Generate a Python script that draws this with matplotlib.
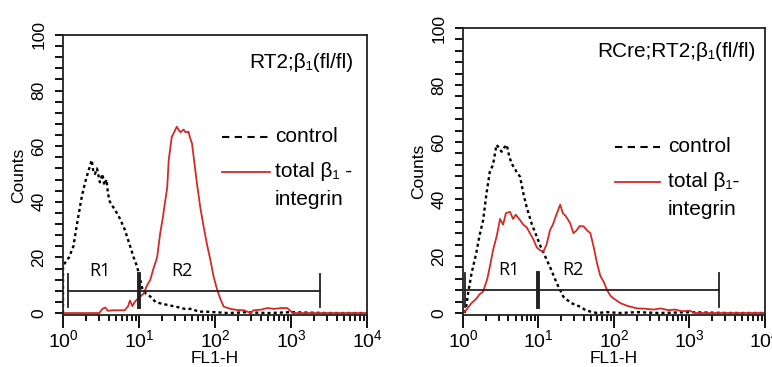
import numpy as np
import matplotlib
matplotlib.use('Agg')
from matplotlib import pyplot as plt
from matplotlib.ticker import MultipleLocator, LogLocator, FixedLocator, LogFormatterSciNotation

plt.rcParams['font.family'] = ['Liberation Sans', 'DejaVu Sans']
plt.rcParams['mathtext.default'] = 'regular'

''' Data read off the two FL1-H histograms '''
# RT2;b1(fl/fl)
left_ctrl_x = [1.0, 1.0, 1.06, 1.2, 1.37, 1.55, 1.77, 2.0, 2.27, 2.39, 2.5, 2.63, 2.8, 3.06, 3.3, 3.5,
               3.74, 3.9, 4.14, 4.6, 5.1, 5.6, 6.5, 7.65, 8.5, 9.35, 10.0, 11.0, 12.3, 14.0, 16.5, 19.0,
               23, 28, 34, 40, 50, 60, 75, 100, 150, 250, 500, 1000, 3000, 10000]
left_ctrl_y = [0, 17, 18, 20, 24, 33, 42, 48, 53, 55, 51, 50, 52, 47, 50, 46,
               48, 43, 40, 38, 36, 34, 30, 24, 20, 17, 14, 9, 7, 6, 4, 3.5,
               3, 2.5, 2, 1.5, 1.5, 0.5, 0.5, 0.3, 0, 0.3, 0, 0.3, 0, 0]
left_b1_x = [1.0, 3.0, 3.3, 3.6, 3.9, 4.5, 6.5, 7.2, 7.6, 8.2, 8.8, 9.5, 10.5, 11.5, 12.8, 14.1,
             15.5, 17.3, 19, 20.5, 22.2, 23.5, 24.6, 26, 27, 29, 31.4, 33, 35, 38.6, 41, 44.8,
             47, 49.8, 53, 57.9, 64, 71, 78, 87, 96, 107, 118, 130, 160, 195, 240, 295, 320,
             400, 490, 600, 750, 890, 1050, 10000]
left_b1_y = [0, 0, 1.5, 2, 0.8, 1, 1, 2.5, 4.5, 2.5, 4, 5, 6, 7, 10, 12,
             16, 20, 28.7, 34, 40.6, 45, 55, 60, 63.4, 65, 67, 66, 65, 66, 65, 65.2,
             63, 61, 55, 46.6, 38, 31, 25, 19, 13, 8.3, 5, 2.3, 1.5, 1.1, 1, 0, 1,
             1.2, 1.8, 1.5, 1.8, 1.8, 0, 0]
left_gate = [1.15, 10.0, 2400.0]

# RCre;RT2;b1(fl/fl)
right_ctrl_x = [1.05, 1.1, 1.17, 1.3, 1.5, 1.65, 1.85, 2.05, 2.27, 2.5, 2.78, 3.0, 3.24, 3.5, 3.8,
                4.1, 4.4, 5.0, 5.7, 6.3, 7.0, 8.2, 9.5, 10.8, 12.3, 14.3, 17.5, 21.4, 27, 35.8,
                42, 48.6, 60, 80, 120, 200, 400, 1000, 3000, 10000]
right_ctrl_y = [0, 2, 7, 14, 21, 27, 32.6, 42, 49.6, 52, 59, 58, 56.6, 58, 59,
                55, 52.5, 50, 47.8, 42, 37, 31, 26.8, 23, 19.8, 16, 10.4, 5.7, 3.5, 2.2,
                1, 0.5, 0, 0.3, 0, 0.3, 0, 0.3, 0, 0]
right_b1_x = [1.0, 1.1, 1.3, 1.5, 1.65, 1.85, 2.1, 2.3, 2.5, 2.8, 3.1, 3.4, 3.7, 4.2, 4.6, 5.0,
              5.7, 6.3, 7.0, 7.7, 8.5, 9.5, 10.5, 11.6, 12.8, 14.2, 15.5, 17, 19.4, 21, 23,
              26.3, 29, 32, 35, 39.6, 44, 48.7, 54, 59.7, 66, 73, 81, 90, 100, 123, 150, 204,
              260, 330, 420, 520, 650, 800, 1000, 1200, 10000]
right_b1_y = [0, 1, 3.5, 5, 6.5, 7.5, 12, 17, 22, 27, 33, 31, 35, 35.5, 33, 34.5,
              32.6, 31, 30, 28, 26, 23, 22, 21.5, 24, 29, 31, 34, 38, 35, 34,
              31.5, 28, 29, 30.5, 30.4, 29, 28, 23, 17.4, 13, 11, 8, 6, 5, 3.4, 2.5, 1.6,
              1.5, 1.2, 1.6, 1.0, 1.2, 0.6, 0.8, 0, 0]
right_gate = [1.05, 10.0, 2450.0]

decades = [1, 10, 100, 1000, 10000]

GATE_LEVEL = 8
GATE_TICK = [2, 14]
RED = '#d42a24'
DARK = '#222222'


def draw_panel(ax, ctrl_x, ctrl_y, b1_x, b1_y, gate, title, leg, r1_x, r2_x, b1_label):
    ax.plot(ctrl_x, ctrl_y, color='black', lw=1.7, ls=(0, (1.3, 1.3)))
    ax.plot(b1_x, b1_y, color=RED, lw=1.3)

    # gate bar with R1 / R2
    ax.plot([gate[0], gate[2]], [GATE_LEVEL, GATE_LEVEL], color=DARK, lw=1.3)
    for i, g in enumerate(gate):
        ax.plot([g, g], GATE_TICK, color=DARK, lw=2.8 if i == 1 else 1.3)
    ax.text(r1_x, 15, 'R1', fontsize=13, ha='center', va='center', family=['Open Sans'])
    ax.text(r2_x, 15, 'R2', fontsize=13, ha='center', va='center', family=['Open Sans'])

    ax.set_xscale('log')
    ax.set_xlim(1, 1e4)
    ax.set_ylim(-0.7, 100)
    ax.yaxis.set_major_locator(MultipleLocator(20))
    ax.yaxis.set_minor_locator(MultipleLocator(4))
    ax.xaxis.set_major_locator(FixedLocator(decades))
    ax.xaxis.set_minor_locator(LogLocator(base=10, subs=np.arange(2, 10), numticks=20))
    ax.xaxis.set_major_formatter(LogFormatterSciNotation())
    ax.tick_params(axis='y', which='major', length=6, width=1.3, pad=6, labelsize=12.5)
    ax.tick_params(axis='y', which='minor', length=6, width=1.3)
    ax.tick_params(axis='x', which='major', length=9, width=1.3, pad=1, labelsize=14)
    ax.tick_params(axis='x', which='minor', length=4, width=1.3)
    for lab in ax.get_yticklabels():
        lab.set_rotation(90)
        lab.set_va('center')
    for s in ax.spines.values():
        s.set_linewidth(1.3)
        s.set_color(DARK)
    ax.set_xlabel('FL1-H', fontsize=12.5, labelpad=0)
    ax.set_ylabel('Counts', fontsize=12.5, labelpad=4)

    # title and hand-made legend
    ax.text(leg['title'][0], leg['title'][1], title, transform=ax.transAxes,
            fontsize=15, ha='right', va='center')
    x0, x1, xt = leg['x']
    yc, yr, yi = leg['y']
    ax.plot([x0, x1], [yc, yc], transform=ax.transAxes, color='black', lw=1.5, ls=(0, (3.5, 2.6)))
    ax.plot([x0, x1], [yr, yr], transform=ax.transAxes, color=RED, lw=1.3)
    ax.text(xt, yc, 'control', transform=ax.transAxes, fontsize=15, va='center')
    ax.text(xt, yr, b1_label, transform=ax.transAxes, fontsize=15, va='center')
    ax.text(xt, yi, 'integrin', transform=ax.transAxes, fontsize=15, va='center')


fig = plt.figure(figsize=(7.72, 3.67), dpi=100)
axL = fig.add_axes([0.0816, 0.1417, 0.3938, 0.763])
axR = fig.add_axes([0.5997, 0.1417, 0.3912, 0.782])

draw_panel(axL, left_ctrl_x, left_ctrl_y, left_b1_x, left_b1_y, left_gate,
           'RT2;β₁(fl/fl)', {'title': (0.954, 0.90), 'x': (0.523, 0.681, 0.697), 'y': (0.636, 0.511, 0.411)},
           3.1, 37, 'total β₁ -')
draw_panel(axR, right_ctrl_x, right_ctrl_y, right_b1_x, right_b1_y, right_gate,
           'RCre;RT2;β₁(fl/fl)', {'title': (0.970, 0.917), 'x': (0.503, 0.652, 0.679), 'y': (0.586, 0.464, 0.366)},
           4.1, 28.7, 'total β₁-')

fig.savefig('out.png', dpi=100)
